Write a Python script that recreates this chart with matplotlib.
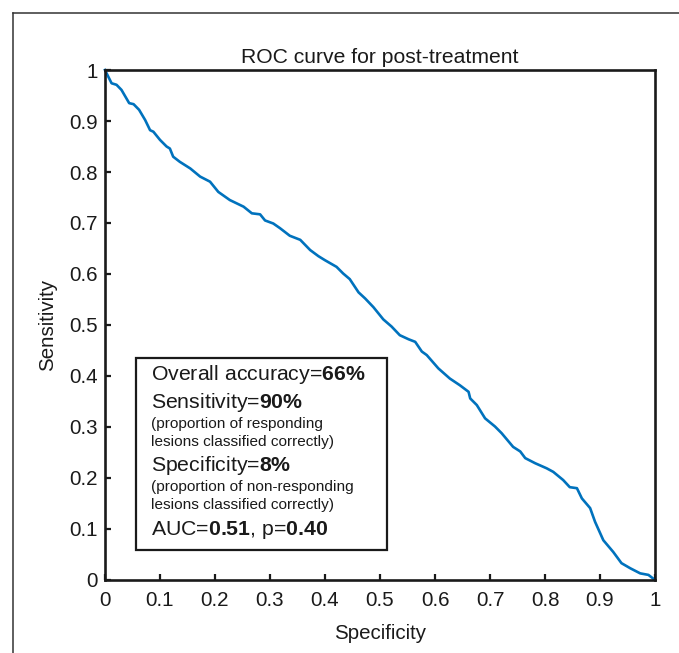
import matplotlib
matplotlib.use("Agg")
import matplotlib.pyplot as plt
from matplotlib.lines import Line2D
from matplotlib.patches import Rectangle

plt.rcParams['font.family'] = ['Liberation Sans', 'DejaVu Sans']
plt.rcParams['mathtext.fontset'] = 'custom'
plt.rcParams['mathtext.rm'] = 'Liberation Sans'
plt.rcParams['mathtext.bf'] = 'Liberation Sans:bold'

# ROC curve
specificity = [0, 0.012, 0.021, 0.030, 0.044, 0.052, 0.062, 0.073, 0.082, 0.088,
               0.100, 0.112, 0.118, 0.124, 0.136, 0.155, 0.173, 0.191, 0.206, 0.227,
               0.252, 0.267, 0.282, 0.291, 0.306, 0.318, 0.336, 0.355, 0.373, 0.388,
               0.400, 0.421, 0.433, 0.445, 0.461, 0.473, 0.488, 0.506, 0.521, 0.536,
               0.552, 0.564, 0.576, 0.585, 0.606, 0.627, 0.645, 0.661, 0.664, 0.676,
               0.691, 0.709, 0.721, 0.742, 0.755, 0.764, 0.782, 0.803, 0.815, 0.833,
               0.845, 0.858, 0.867, 0.882, 0.891, 0.906, 0.924, 0.939, 0.955, 0.973,
               0.988, 1.0]
sensitivity = [1.0, 0.974, 0.971, 0.961, 0.935, 0.933, 0.922, 0.902, 0.882, 0.879,
               0.863, 0.850, 0.846, 0.830, 0.820, 0.807, 0.791, 0.781, 0.761, 0.745,
               0.732, 0.719, 0.717, 0.705, 0.699, 0.690, 0.675, 0.667, 0.647, 0.635,
               0.627, 0.614, 0.601, 0.590, 0.564, 0.552, 0.535, 0.511, 0.497, 0.480,
               0.472, 0.467, 0.448, 0.441, 0.415, 0.395, 0.382, 0.369, 0.356, 0.343,
               0.317, 0.301, 0.288, 0.261, 0.252, 0.239, 0.229, 0.219, 0.212, 0.196,
               0.182, 0.180, 0.160, 0.141, 0.114, 0.078, 0.055, 0.033, 0.023, 0.013,
               0.010, 0.0]

ticks = [0, 0.1, 0.2, 0.3, 0.4, 0.5, 0.6, 0.7, 0.8, 0.9, 1]
tick_labels = ['0', '0.1', '0.2', '0.3', '0.4', '0.5', '0.6', '0.7', '0.8', '0.9', '1']

# box text: (text, fontsize)
box_lines = [
    (r'Overall accuracy=$\mathbf{66\%}$', 15.3),
    (r'Sensitivity=$\mathbf{90\%}$', 15.3),
    ('(proportion of responding', 11.1),
    ('lesions classified correctly)', 11.1),
    (r'Specificity=$\mathbf{8\%}$', 15.3),
    ('(proportion of non-responding', 11.1),
    ('lesions classified correctly)', 11.1),
    (r'AUC=$\mathbf{0.51}$, p=$\mathbf{0.40}$', 15.3),
]
box_line_y = [0.402, 0.349, 0.306, 0.271, 0.225, 0.182, 0.147, 0.098]

fig = plt.figure(figsize=(6.79, 6.53), dpi=100)
ax = fig.add_axes([0.1546, 0.1118, 0.8101, 0.7810])

ax.plot(specificity, sensitivity, color='#0072BD', lw=1.9, clip_on=False)

ax.set_xlim(0, 1)
ax.set_ylim(0, 1)
ax.set_xticks(ticks)
ax.set_xticklabels(tick_labels)
ax.set_yticks(ticks)
ax.set_yticklabels(tick_labels)
ax.tick_params(direction='in', length=4.5, width=1.6, labelsize=14.8, colors='#1a1a1a')
ax.tick_params(axis='x', pad=8)
ax.tick_params(axis='y', pad=5)
for s in ax.spines.values():
    s.set_linewidth(1.9)
    s.set_color('#1a1a1a')

ax.set_xlabel('Specificity', fontsize=14.8, color='#1a1a1a', labelpad=10)
ax.set_ylabel('Sensitivity', fontsize=14.8, color='#1a1a1a', labelpad=9)
ax.text(0.5, 1.024, 'ROC curve for post-treatment', transform=ax.transAxes,
        ha='center', va='center', fontsize=15.2, color='#1a1a1a')

# stats box
ax.add_patch(Rectangle((0.0564, 0.0588), 0.4564, 0.376, transform=ax.transAxes,
                       fill=True, facecolor='white', edgecolor='#1a1a1a', lw=1.6, zorder=3))
for (txt, fs), y in zip(box_lines, box_line_y):
    ax.text(0.0836, y, txt, transform=ax.transAxes, ha='left', va='center',
            fontsize=fs, color='#1a1a1a', zorder=4)

# outer frame (left and top edges only)
fx = 12.7 / 679
fy = 1 - 12.7 / 653
fig.add_artist(Line2D([fx, fx], [0, fy], transform=fig.transFigure, color='#333333', lw=1.1))
fig.add_artist(Line2D([fx, 1], [fy, fy], transform=fig.transFigure, color='#333333', lw=1.1))

fig.savefig('out.png', dpi=100, facecolor='white')
